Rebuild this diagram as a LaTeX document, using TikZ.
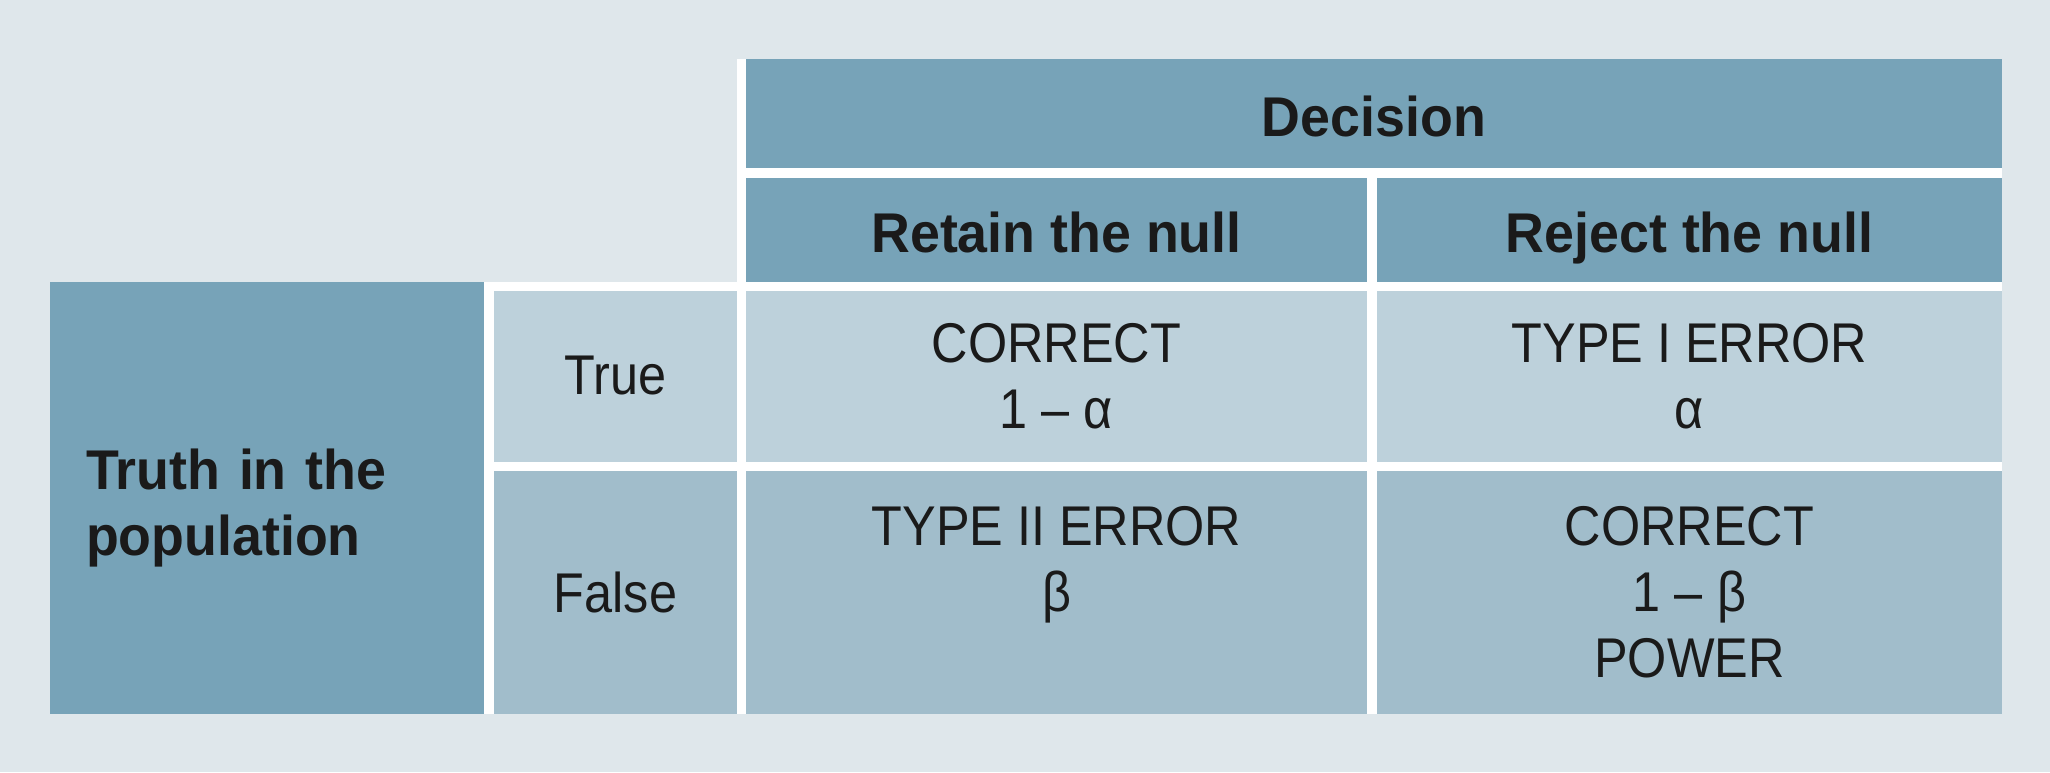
\documentclass[tikz,border=0pt]{standalone}
\usepackage{fontspec}
\setmainfont{Liberation Sans}[FakeStretch=0.90]
\newfontfamily\headfont{Liberation Sans}[FakeStretch=0.96]
\usepackage{tikz}
\usetikzlibrary{positioning}
\definecolor{pagebg}{HTML}{DFE7EB}
\definecolor{darkblue}{HTML}{77A3B8}
\definecolor{paleblue}{HTML}{BDD1DB}
\definecolor{midblue}{HTML}{A1BDCB}
\definecolor{inktext}{HTML}{1A1A1A}
\tikzset{%
  cell/.style      = {shape=rectangle, inner sep=0pt, outer sep=0pt,%
                      align=center, text=inktext,%
                      font=\fontsize{28}{33}\selectfont},%
  head/.style      = {cell, fill=darkblue,%
                      font=\headfont\bfseries\fontsize{28}{33}\selectfont},%
  colhead/.style   = {head, text height=24pt, text depth=1.5pt},%
  truecell/.style  = {cell, fill=paleblue},%
  falsecell/.style = {cell, fill=midblue}%
}
\begin{document}
\begin{tikzpicture}[x=0.5pt, y=-0.5pt]
  \useasboundingbox[fill=pagebg] (0,0) rectangle (2050,772);
  \fill[white] (737,59) rectangle (2002,714);
  \fill[white] (484,281.5) rectangle (2002,714);
  \node[colhead, minimum width=628pt, minimum height=54.5pt, anchor=north west] (decision) at (746,59) {Decision};
  \node[colhead, minimum width=310.5pt, minimum height=51.75pt,
        below=5pt of decision.south west, anchor=north west] (retain) {Retain the null};
  \node[colhead, minimum width=312.5pt, minimum height=51.75pt, right=5pt of retain] (reject) {Reject the null};
  \node[truecell, minimum width=310.5pt, minimum height=85.5pt, below=4.5pt of retain] (correctnull) {CORRECT\\1 – α};
  \node[truecell, minimum width=312.5pt, minimum height=85.5pt, below=4.5pt of reject] (typeone) {TYPE I ERROR\\α};
  \node[falsecell, minimum width=310.5pt, minimum height=121.5pt, below=4.7pt of correctnull] (typetwo) {TYPE II ERROR\\β\\\mbox{}};
  \node[falsecell, minimum width=312.5pt, minimum height=121.5pt, below=4.7pt of typeone] (power) {CORRECT\\1 – β\\POWER};
  \node[truecell, minimum width=121.5pt, minimum height=85.5pt, left=4.5pt of correctnull] (truerow) {True};
  \node[falsecell, minimum width=121.5pt, minimum height=121.5pt, left=4.5pt of typetwo] (falserow) {False};
  \node[head, minimum width=217pt, minimum height=216pt, inner xsep=18pt, text width=181pt, align=left,
        text height=28pt, text depth=36pt,
        above left=4.5pt and 5pt of truerow.north west, anchor=north east] (truth) {Truth in the\\population};
\end{tikzpicture}
\end{document}
